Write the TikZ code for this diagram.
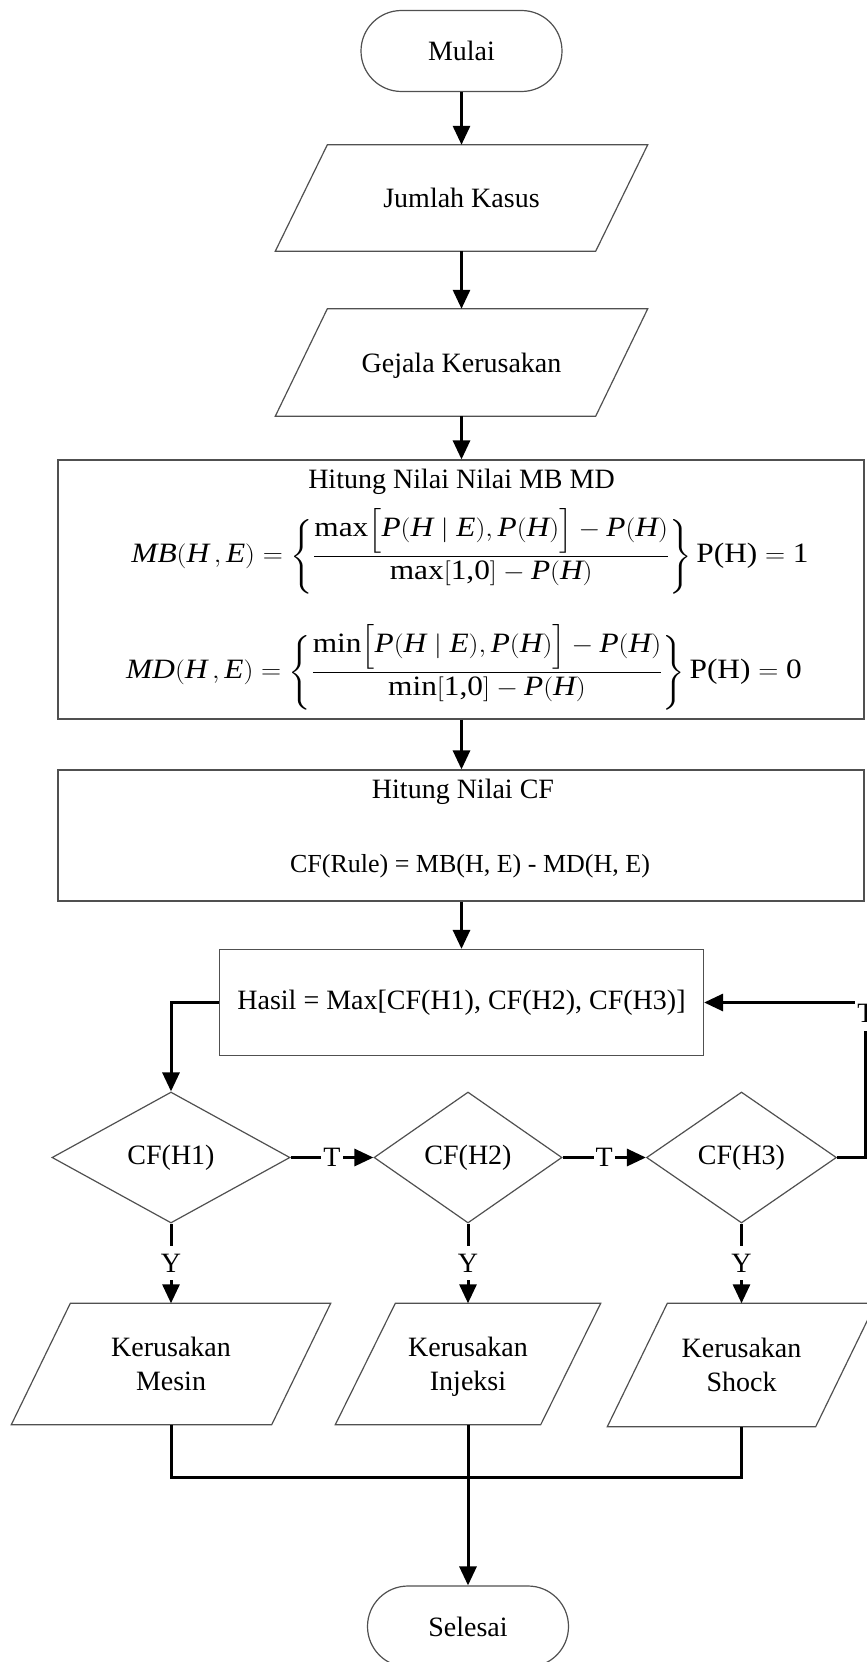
\documentclass[tikz,border=0pt]{standalone}
\usepackage{amsmath}
\usepackage{fontspec}
\setmainfont{Liberation Serif}
\usetikzlibrary{shapes.geometric,shapes.misc,arrows.meta}
\definecolor{edgegray}{RGB}{80,80,80}
% italic variable and upright text in the serif text face
\newcommand{\vr}[1]{\textit{#1}}
\newcommand{\tx}[1]{\textup{#1}}
% braces round the fractions
\newcommand{\lbr}{\Biggl\{}
\newcommand{\rbr}{\Biggr\}}
% slanted outline of an input/output node: node name, slant in pt
\newcommand{\ioframe}[2]{%
  \draw[frame] (#1.south west) -- ([xshift=-#2pt]#1.south east) -- (#1.north east)
    -- ([xshift=#2pt]#1.north west) -- cycle;}

\begin{document}
\begin{tikzpicture}[x=1pt,y=-1pt,
  font=\fontsize{28}{34}\selectfont,
  frame/.style={draw=edgegray,line width=1.2pt},
  shp/.style={frame,fill=white,inner sep=0pt,align=center},
  term/.style={shp,rounded rectangle,minimum width=201pt,minimum height=81pt},
  io/.style={inner sep=0pt,align=center,text depth=0pt},
  proc/.style={shp,rectangle},
  dec/.style={shp,diamond,minimum height=131pt},
  inbox/.style={inner sep=0pt},
  flow/.style={line width=3pt,-{Triangle[length=19pt,width=17pt]}},
  wire/.style={line width=3pt},
  lblT/.style={fill=white,inner xsep=2pt,inner ysep=2pt},
  lblY/.style={fill=white,inner xsep=2pt,inner ysep=0pt,minimum height=34pt}]

\useasboundingbox (0,0) rectangle (867,1662);
\clip (0,0) rectangle (867,1662);

% main column
\node[term] (mulai) at (461.5,51) {Mulai};
\node[io,minimum width=372pt,minimum height=106pt] (jml) at (461.5,198) {Jumlah Kasus};
\ioframe{jml}{52}
\node[io,minimum width=372pt,minimum height=107pt] (gej) at (461.5,362.5) {Gejala Kerusakan};
\ioframe{gej}{52}

% MB / MD computation
\node[proc,minimum width=806pt,minimum height=259pt] (mbmd) at (461,589.5) {};
\node[inbox] (mbmdT) at (461.5,482) {Hitung Nilai Nilai MB MD};
\node[inbox] (mbF) at (470,551) {\scalebox{1.12}[1]{%
  $\vr{MB}(\vr{H}\,,\vr{E})=\lbr\dfrac{\tx{max}\Bigl[\vr{P}(\vr{H}\mid\vr{E}),\vr{P}(\vr{H})\Bigr]-\vr{P}(\vr{H})}{\tx{max}[\tx{1,0}]-\vr{P}(\vr{H})}\rbr\,\tx{P(H)}=\tx{1}$}};
\node[inbox] (mdF) at (464,667) {\scalebox{1.12}[1]{%
  $\vr{MD}(\vr{H}\,,\vr{E})=\lbr\dfrac{\tx{min}\Bigl[\vr{P}(\vr{H}\mid\vr{E}),\vr{P}(\vr{H})\Bigr]-\vr{P}(\vr{H})}{\tx{min}[\tx{1,0}]-\vr{P}(\vr{H})}\rbr\,\tx{P(H)}=\tx{0}$}};

% CF computation
\node[proc,minimum width=806pt,minimum height=131pt] (cfb) at (461,835.5) {};
\node[inbox] (cfT) at (463,792) {Hitung Nilai CF};
\node[inbox] (cfF) at (470,866) {\fontsize{26}{30}\selectfont CF(Rule) = MB(H, E) - MD(H, E)};

% result
\node[proc,minimum width=484pt,minimum height=106pt] (hasil) at (461.5,1002.5)
  {Hasil = Max[CF(H1), CF(H2), CF(H3)]};

% decisions
\node[dec,minimum width=238pt] (d1) at (171,1157.5) {CF(H1)};
\node[dec,minimum width=188pt] (d2) at (468,1157.5) {CF(H2)};
\node[dec,minimum width=190pt] (d3) at (741.5,1157.5) {CF(H3)};

% outputs
\node[io,minimum width=319pt,minimum height=121pt] (p1) at (171,1364) {Kerusakan\\Mesin};
\ioframe{p1}{59}
\node[io,minimum width=265pt,minimum height=121pt] (p2) at (468,1364) {Kerusakan\\Injeksi};
\ioframe{p2}{60}
\node[io,minimum width=268pt,minimum height=123pt] (p3) at (741.5,1365) {Kerusakan\\Shock};
\ioframe{p3}{60}

\node[term] (sel) at (468,1626.5) {Selesai};

% connectors
\draw[flow] (mulai.south) -- (jml.north);
\draw[flow] (jml.south) -- (gej.north);
\draw[flow] (gej.south) -- (mbmd.north -| gej.south);
\draw[flow] (mbmd.south -| gej.south) -- (cfb.north -| gej.south);
\draw[flow] (cfb.south -| gej.south) -- (hasil.north);
\draw[flow] (hasil.west) -| (d1.north);
\draw[flow] (d1.east) -- node[lblT]{T} (d2.west);
\draw[flow] (d2.east) -- node[lblT]{T} (d3.west);
\coordinate (loop) at (865,1002.5);
\draw[flow] (d3.east) -| (loop) -- (hasil.east);
\node[lblT,anchor=north,minimum height=35pt] (tloop) at (866,996) {T};
\draw[flow] (d1.south) -- node[lblY]{Y} (p1.north);
\draw[flow] (d2.south) -- node[lblY]{Y} (p2.north);
\draw[flow] (d3.south) -- node[lblY]{Y} (p3.north);
\draw[wire] (p1.south) -- ++(0,53) -| (p3.south);
\draw[flow] (p2.south) -- (sel.north);
\end{tikzpicture}
\end{document}
